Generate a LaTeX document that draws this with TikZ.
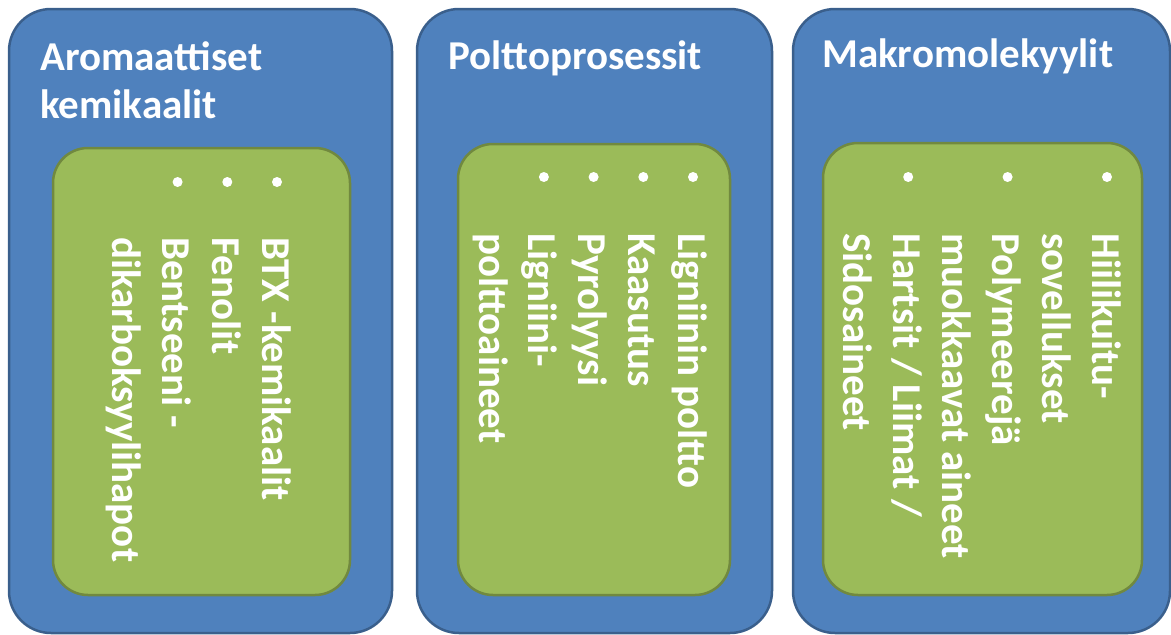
\documentclass[tikz,border=0pt]{standalone}
\usepackage{fontspec}
\setmainfont{Carlito}
\definecolor{bfill}{HTML}{4F81BD}
\definecolor{bdraw}{HTML}{3A5F8C}
\definecolor{gfill}{HTML}{9BBB59}
\definecolor{gdraw}{HTML}{71893F}
\tikzset{
  bluebox/.style={draw=bdraw, fill=bfill, line width=2.5pt, rounded corners=42pt, inner sep=0pt},
  greenbox/.style={draw=gdraw, fill=gfill, line width=2.5pt, rounded corners=35pt, inner sep=0pt},
  ttl/.style={anchor=base west, inner sep=0pt, text=white, font=\bfseries\fontsize{41}{49}\selectfont},
  vline/.style={rotate=-90, anchor=base west, inner sep=0pt, text=white, font=\bfseries\fontsize{41}{49}\selectfont},
  bul/.style={circle, fill=white, inner sep=0pt, minimum size=10pt}
}
\begin{document}
\begin{tikzpicture}[x=1pt, y=-1pt]
\useasboundingbox (0,0) rectangle (1171,635);
% boxes
\node[bluebox, minimum width=383pt, minimum height=624pt] (b1) at (200.5,321) {};
\node[bluebox, minimum width=355pt, minimum height=624pt] (b2) at (594.5,321) {};
\node[bluebox, minimum width=377pt, minimum height=624pt] (b3) at (981.5,321) {};
\node[greenbox, minimum width=297pt, minimum height=447pt] (g1) at (201.5,371.5) {};
\node[greenbox, minimum width=272pt, minimum height=451pt] (g2) at (594,369.5) {};
\node[greenbox, minimum width=319pt, minimum height=452pt] (g3) at (982.5,369) {};
% titles
\node[ttl] (t1a) at (40,70) {Aromaattiset};
\node[ttl] (t1b) at (40,118) {kemikaalit};
\node[ttl] (t2) at (448,69) {Polttoprosessit};
\node[ttl] (t3) at (822,67) {Makromolekyylit};
% column 1
\node[bul] (d1a) at (277,182) {};
\node[bul] (d1b) at (227.3,182) {};
\node[bul] (d1c) at (177.6,182) {};
\node[vline] (l1a) at (262,237) {BTX -kemikaalit};
\node[vline] (l1b) at (212.3,237) {Fenolit};
\node[vline] (l1c) at (162.6,237) {Bentseeni -};
\node[vline] (l1d) at (112.9,237) {dikarboksyylihapot};
% column 2
\node[bul] (d2a) at (693,177) {};
\node[bul] (d2b) at (643.3,177) {};
\node[bul] (d2c) at (593.6,177) {};
\node[bul] (d2d) at (543.9,177) {};
\node[vline] (l2a) at (678,233) {Ligniinin poltto};
\node[vline] (l2b) at (628.3,233) {Kaasutus};
\node[vline] (l2c) at (578.6,233) {Pyrolyysi};
\node[vline] (l2d) at (528.9,233) {Ligniini-};
\node[vline] (l2e) at (479.2,233) {polttoaineet};
% column 3
\node[bul] (d3a) at (1107,177) {};
\node[bul] (d3b) at (1007.6,177) {};
\node[bul] (d3c) at (908.2,177) {};
\node[vline] (l3a) at (1092,233) {Hiilikuitu-};
\node[vline] (l3b) at (1042.3,233) {sovellukset};
\node[vline] (l3c) at (992.6,233) {Polymeerejä};
\node[vline] (l3d) at (942.9,233) {muokkaavat aineet};
\node[vline] (l3e) at (893.2,233) {Hartsit / Liimat /};
\node[vline] (l3f) at (843.5,233) {Sidosaineet};
\end{tikzpicture}
\end{document}
